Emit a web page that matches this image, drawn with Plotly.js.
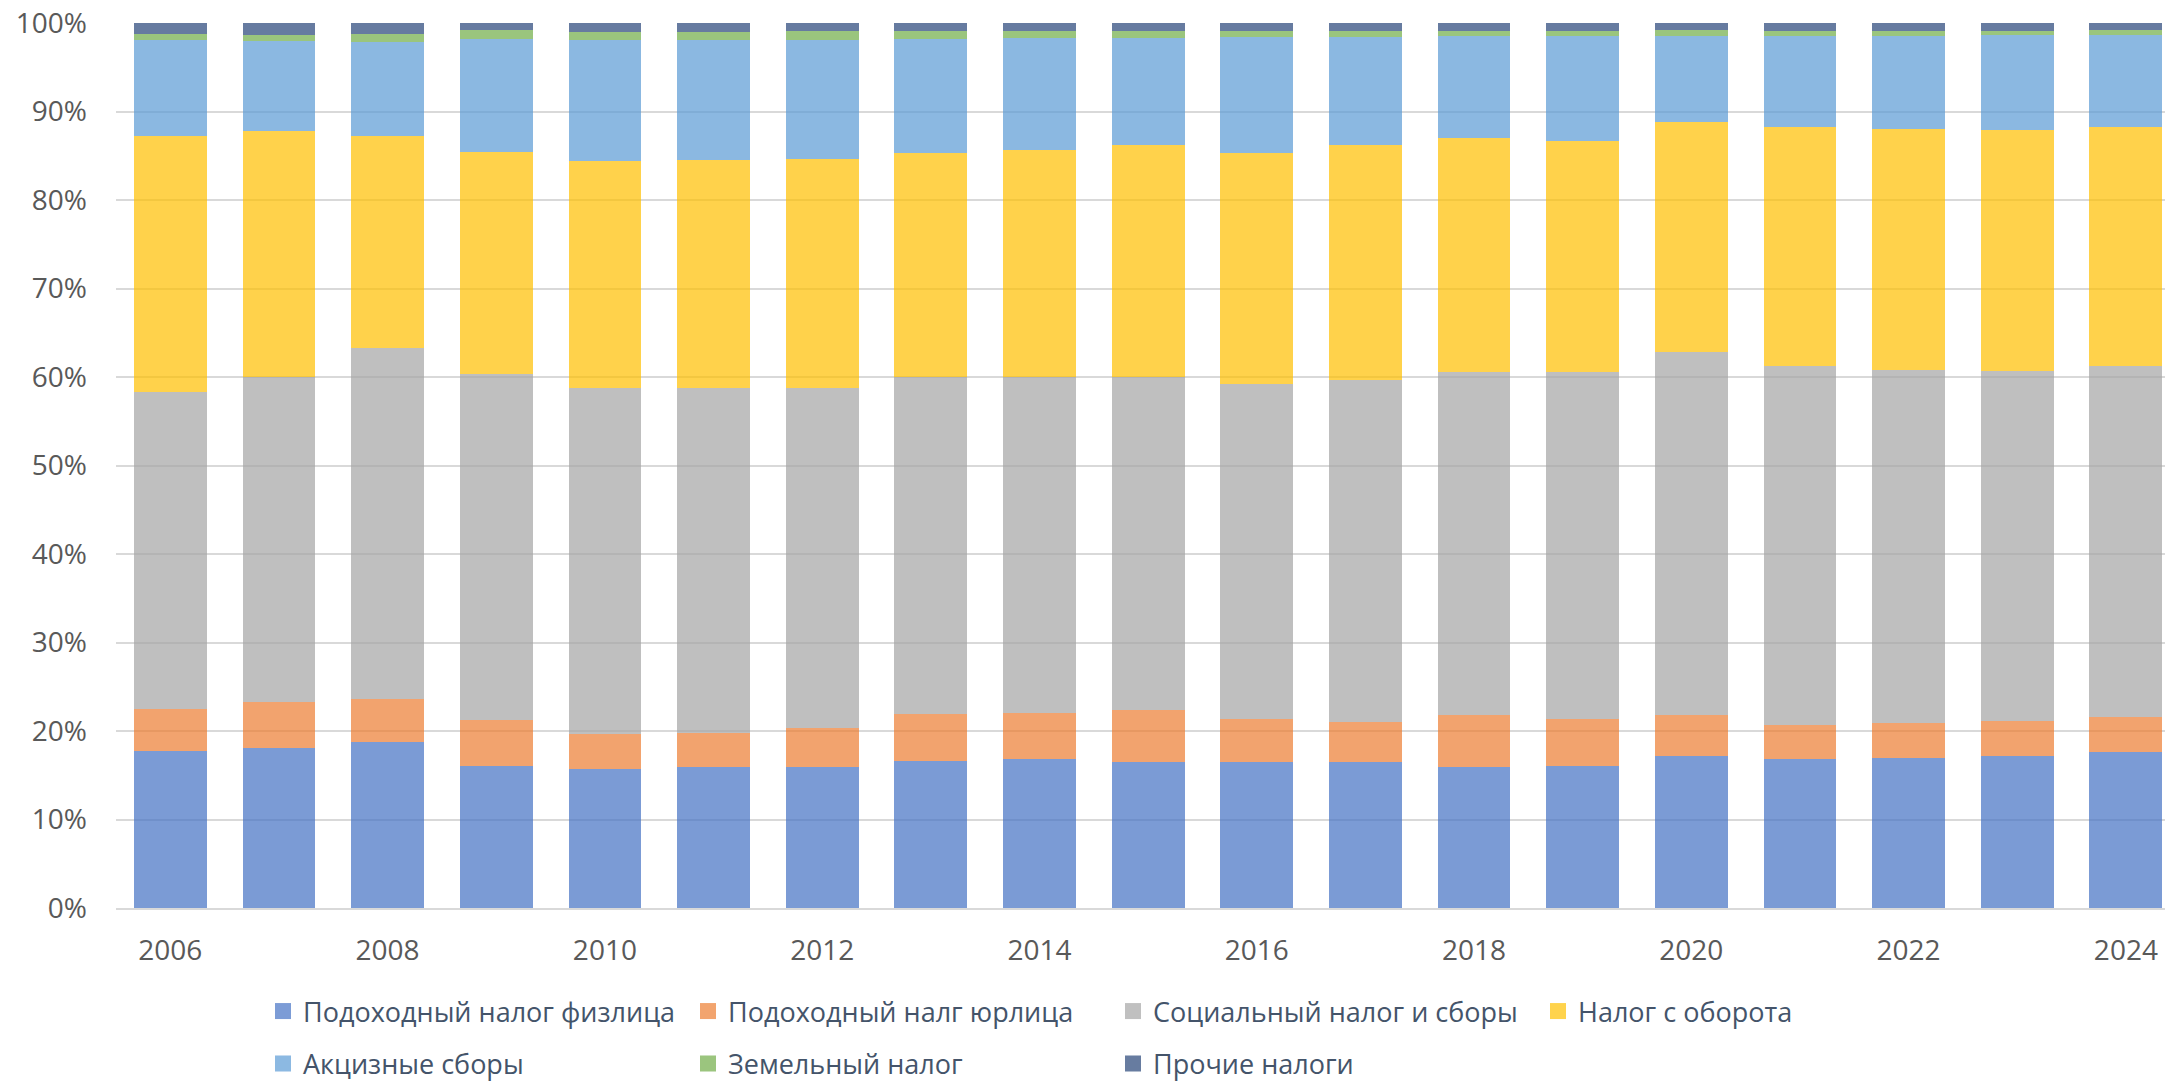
<!DOCTYPE html>
<html>
<head>
<meta charset="utf-8">
<script src="https://cdn.plot.ly/plotly-3.0.1.min.js"></script>
<style>html,body{margin:0;padding:0;background:#fff;}#chart{width:2165px;height:1081px;}</style>
</head>
<body>
<div id="chart"></div>
<script>
const years = [2006,2007,2008,2009,2010,2011,2012,2013,2014,2015,2016,2017,2018,2019,2020,2021,2022,2023,2024];
const tickYears = [2006,2008,2010,2012,2014,2016,2018,2020,2022,2024];

const seriesNames = [
  "Подоходный налог физлица",
  "Подоходный налг юрлица",
  "Социальный налог и сборы",
  "Налог с оборота",
  "Акцизные сборы",
  "Земельный налог",
  "Прочие налоги"
];

const personalIncomeTax = [17.74,18.12,18.72,16.01,15.74,15.93,15.93,16.65,16.87,16.53,16.53,16.53,15.97,16.01,17.21,16.87,16.91,17.21,17.59];
const corporateIncomeTax = [4.75,5.12,4.93,5.27,3.96,3.81,4.37,5.31,5.20,5.88,4.86,4.52,5.88,5.38,4.60,3.77,3.96,3.92,4.03];
const socialTax = [35.85,36.72,39.59,39.10,39.09,38.98,38.49,38.08,37.97,37.63,37.78,38.57,38.68,39.14,41.05,40.57,39.88,39.51,39.59];
const turnoverTax = [28.93,27.80,23.96,25.01,25.62,25.76,25.88,25.27,25.61,26.17,26.10,26.59,26.48,26.10,25.95,27.04,27.27,27.23,27.08];
const exciseDuties = [10.77,10.21,10.65,12.80,13.63,13.56,13.41,12.92,12.62,12.13,13.11,12.24,11.48,11.86,9.76,10.24,10.55,10.74,10.35];
const landTax = [0.72,0.67,0.91,1.02,0.98,0.94,0.98,0.83,0.83,0.76,0.72,0.65,0.61,0.57,0.64,0.61,0.53,0.49,0.57];
const otherTaxes = [1.24,1.36,1.24,0.79,0.98,1.02,0.94,0.94,0.90,0.90,0.90,0.90,0.90,0.94,0.79,0.90,0.90,0.90,0.79];

const seriesValues = [personalIncomeTax, corporateIncomeTax, socialTax, turnoverTax, exciseDuties, landTax, otherTaxes];
const seriesColors = ["#4472C4","#ED7D31","#A5A5A5","#FFC000","#5B9BD5","#70AD47","#264478"];

const barTraces = seriesValues.map((vals, i) => ({
  type: "bar",
  name: seriesNames[i],
  x: years,
  y: vals,
  opacity: 0.7,
  marker: {color: seriesColors[i], line: {width: 0}},
  showlegend: false,
  hoverinfo: "skip"
}));

// legend-only entries (larger square swatches)
const legendTraces = seriesNames.map((name, i) => ({
  type: "scatter",
  mode: "markers",
  name: name,
  x: [null],
  y: [null],
  marker: {symbol: "square", size: 16, color: seriesColors[i], opacity: 0.7},
  legend: i < 4 ? "legend" : "legend2",
  hoverinfo: "skip"
}));

const legendFont = {family: "Open Sans, sans-serif", size: 27, color: "#44546A"};
const layout = {
  width: 2165,
  height: 1081,
  margin: {l: 116, r: 0, t: 23, b: 173},
  paper_bgcolor: "#ffffff",
  plot_bgcolor: "#ffffff",
  barmode: "stack",
  bargap: 0.33,
  showlegend: true,
  font: {family: "Open Sans, sans-serif"},
  xaxis: {
    type: "linear",
    range: [2005.5, 2024.36],
    tickvals: tickYears,
    ticktext: tickYears.map(String),
    ticks: "",
    showgrid: false,
    zeroline: false,
    showline: true,
    linecolor: "#D9D9D9",
    linewidth: 2,
    tickfont: {family: "Open Sans, sans-serif", size: 28, color: "#595959"},
    ticklabelstandoff: 16
  },
  yaxis: {
    range: [0, 100],
    dtick: 10,
    ticksuffix: "%",
    ticks: "",
    showgrid: true,
    gridcolor: "#D9D9D9",
    gridwidth: 2,
    zeroline: false,
    showline: false,
    tickfont: {family: "Open Sans, sans-serif", size: 28, color: "#595959"},
    ticklabelstandoff: 28
  },
  legend: {
    orientation: "h",
    xref: "container", yref: "container",
    x: 263/2165, y: (1081-1011.5)/1081,
    xanchor: "left", yanchor: "middle",
    entrywidth: 380, entrywidthmode: "pixels",
    itemsizing: "trace",
    traceorder: "normal",
    font: legendFont,
    bgcolor: "rgba(0,0,0,0)"
  },
  legend2: {
    orientation: "h",
    xref: "container", yref: "container",
    x: 263/2165, y: (1081-1064)/1081,
    xanchor: "left", yanchor: "middle",
    entrywidth: 380, entrywidthmode: "pixels",
    itemsizing: "trace",
    traceorder: "normal",
    font: legendFont,
    bgcolor: "rgba(0,0,0,0)"
  }
};

Plotly.newPlot("chart", barTraces.concat(legendTraces), layout, {displayModeBar: false, staticPlot: true});
</script>
</body>
</html>
